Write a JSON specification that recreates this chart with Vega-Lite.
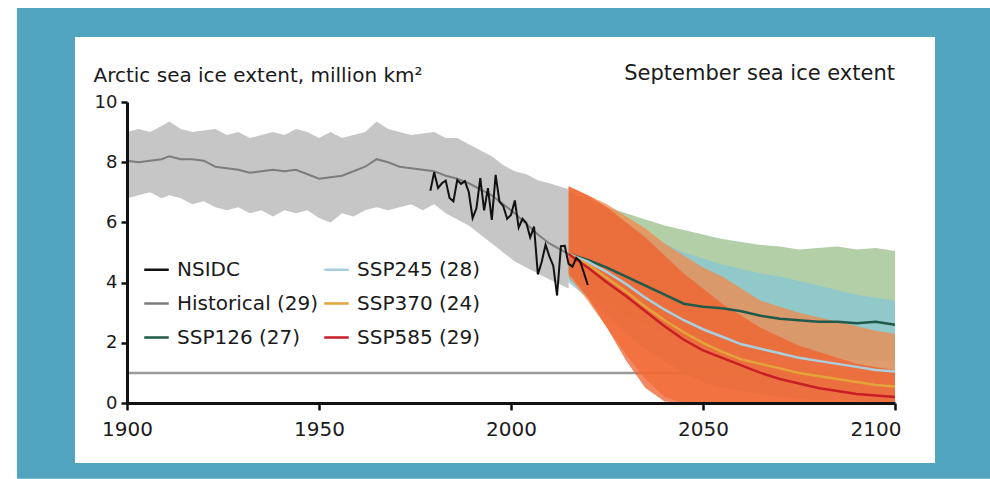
{
  "$schema": "https://vega.github.io/schema/vega-lite/v6.json",
  "width": 768,
  "height": 301,
  "autosize": {"type": "none"},
  "padding": {"left": 127, "top": 102, "right": 95, "bottom": 76},
  "background": "white",
  "config": {"view": {"stroke": null}, "font": "DejaVu Sans"},
  "datasets": {
    "hist": [
      {"year": 1900, "lo": 6.8, "hi": 9.0, "mean": 8.05},
      {"year": 1903, "lo": 6.9, "hi": 9.1, "mean": 8.0},
      {"year": 1906, "lo": 7.0, "hi": 9.0, "mean": 8.05},
      {"year": 1909, "lo": 6.8, "hi": 9.2, "mean": 8.1},
      {"year": 1911, "lo": 6.9, "hi": 9.35, "mean": 8.2},
      {"year": 1914, "lo": 6.8, "hi": 9.1, "mean": 8.1},
      {"year": 1917, "lo": 6.6, "hi": 9.0, "mean": 8.1},
      {"year": 1920, "lo": 6.7, "hi": 9.05, "mean": 8.05},
      {"year": 1923, "lo": 6.5, "hi": 9.1, "mean": 7.85},
      {"year": 1926, "lo": 6.4, "hi": 8.9, "mean": 7.8},
      {"year": 1929, "lo": 6.5, "hi": 9.0, "mean": 7.75},
      {"year": 1932, "lo": 6.3, "hi": 8.8, "mean": 7.65},
      {"year": 1935, "lo": 6.4, "hi": 8.9, "mean": 7.7},
      {"year": 1938, "lo": 6.2, "hi": 9.0, "mean": 7.75},
      {"year": 1941, "lo": 6.4, "hi": 8.9, "mean": 7.7},
      {"year": 1944, "lo": 6.3, "hi": 9.1, "mean": 7.75},
      {"year": 1947, "lo": 6.4, "hi": 9.0, "mean": 7.6},
      {"year": 1950, "lo": 6.15, "hi": 8.8, "mean": 7.45},
      {"year": 1953, "lo": 6.0, "hi": 9.0, "mean": 7.5},
      {"year": 1956, "lo": 6.3, "hi": 8.8, "mean": 7.55},
      {"year": 1959, "lo": 6.2, "hi": 8.9, "mean": 7.7},
      {"year": 1962, "lo": 6.4, "hi": 9.0, "mean": 7.85},
      {"year": 1965, "lo": 6.5, "hi": 9.35, "mean": 8.1},
      {"year": 1968, "lo": 6.4, "hi": 9.1, "mean": 8.0},
      {"year": 1971, "lo": 6.5, "hi": 9.0, "mean": 7.85},
      {"year": 1974, "lo": 6.6, "hi": 8.9, "mean": 7.8},
      {"year": 1977, "lo": 6.4, "hi": 8.95, "mean": 7.75},
      {"year": 1980, "lo": 6.6, "hi": 9.0, "mean": 7.7},
      {"year": 1983, "lo": 6.3, "hi": 8.8, "mean": 7.55},
      {"year": 1986, "lo": 6.1, "hi": 8.8, "mean": 7.45},
      {"year": 1989, "lo": 5.9, "hi": 8.6, "mean": 7.3},
      {"year": 1992, "lo": 5.6, "hi": 8.4, "mean": 7.1},
      {"year": 1995, "lo": 5.3, "hi": 8.2, "mean": 6.9},
      {"year": 1998, "lo": 5.0, "hi": 7.9, "mean": 6.6},
      {"year": 2001, "lo": 4.7, "hi": 7.7, "mean": 6.3},
      {"year": 2004, "lo": 4.5, "hi": 7.6, "mean": 5.95},
      {"year": 2007, "lo": 4.3, "hi": 7.4, "mean": 5.6},
      {"year": 2010, "lo": 4.1, "hi": 7.3, "mean": 5.3},
      {"year": 2015, "lo": 3.8, "hi": 7.1, "mean": 4.95}
    ],
    "nsidc": [
      {"year": 1979, "v": 7.05}, {"year": 1980, "v": 7.67}, {"year": 1981, "v": 7.14},
      {"year": 1982, "v": 7.3}, {"year": 1983, "v": 7.39}, {"year": 1984, "v": 6.81},
      {"year": 1985, "v": 6.7}, {"year": 1986, "v": 7.41}, {"year": 1987, "v": 7.28},
      {"year": 1988, "v": 7.37}, {"year": 1989, "v": 7.01}, {"year": 1990, "v": 6.14},
      {"year": 1991, "v": 6.47}, {"year": 1992, "v": 7.47}, {"year": 1993, "v": 6.4},
      {"year": 1994, "v": 7.14}, {"year": 1995, "v": 6.08}, {"year": 1996, "v": 7.58},
      {"year": 1997, "v": 6.69}, {"year": 1998, "v": 6.54}, {"year": 1999, "v": 6.12},
      {"year": 2000, "v": 6.25}, {"year": 2001, "v": 6.73}, {"year": 2002, "v": 5.83},
      {"year": 2003, "v": 6.12}, {"year": 2004, "v": 5.98}, {"year": 2005, "v": 5.5},
      {"year": 2006, "v": 5.86}, {"year": 2007, "v": 4.27}, {"year": 2008, "v": 4.69},
      {"year": 2009, "v": 5.26}, {"year": 2010, "v": 4.87}, {"year": 2011, "v": 4.56},
      {"year": 2012, "v": 3.57}, {"year": 2013, "v": 5.21}, {"year": 2014, "v": 5.22},
      {"year": 2015, "v": 4.62}, {"year": 2016, "v": 4.53}, {"year": 2017, "v": 4.82},
      {"year": 2018, "v": 4.71}, {"year": 2019, "v": 4.32}, {"year": 2020, "v": 3.92}
    ],
    "proj": [
      {"series": "SSP126 (27)", "year": 2015, "lo": 4.1, "hi": 7.0, "mean": 4.95},
      {"series": "SSP126 (27)", "year": 2020, "lo": 3.7, "hi": 6.8, "mean": 4.75},
      {"series": "SSP126 (27)", "year": 2025, "lo": 3.3, "hi": 6.5, "mean": 4.5},
      {"series": "SSP126 (27)", "year": 2030, "lo": 2.9, "hi": 6.3, "mean": 4.2},
      {"series": "SSP126 (27)", "year": 2035, "lo": 2.6, "hi": 6.1, "mean": 3.9},
      {"series": "SSP126 (27)", "year": 2040, "lo": 2.3, "hi": 5.9, "mean": 3.6},
      {"series": "SSP126 (27)", "year": 2045, "lo": 2.1, "hi": 5.75, "mean": 3.3},
      {"series": "SSP126 (27)", "year": 2050, "lo": 1.9, "hi": 5.6, "mean": 3.2},
      {"series": "SSP126 (27)", "year": 2055, "lo": 1.8, "hi": 5.45, "mean": 3.15},
      {"series": "SSP126 (27)", "year": 2060, "lo": 1.7, "hi": 5.35, "mean": 3.05},
      {"series": "SSP126 (27)", "year": 2065, "lo": 1.6, "hi": 5.25, "mean": 2.9},
      {"series": "SSP126 (27)", "year": 2070, "lo": 1.6, "hi": 5.2, "mean": 2.8},
      {"series": "SSP126 (27)", "year": 2075, "lo": 1.5, "hi": 5.1, "mean": 2.75},
      {"series": "SSP126 (27)", "year": 2080, "lo": 1.5, "hi": 5.15, "mean": 2.7},
      {"series": "SSP126 (27)", "year": 2085, "lo": 1.5, "hi": 5.2, "mean": 2.7},
      {"series": "SSP126 (27)", "year": 2090, "lo": 1.4, "hi": 5.1, "mean": 2.65},
      {"series": "SSP126 (27)", "year": 2095, "lo": 1.4, "hi": 5.15, "mean": 2.7},
      {"series": "SSP126 (27)", "year": 2100, "lo": 1.4, "hi": 5.05, "mean": 2.6},
      {"series": "SSP245 (28)", "year": 2015, "lo": 4.0, "hi": 7.0, "mean": 4.95},
      {"series": "SSP245 (28)", "year": 2020, "lo": 3.5, "hi": 6.7, "mean": 4.7},
      {"series": "SSP245 (28)", "year": 2025, "lo": 2.9, "hi": 6.4, "mean": 4.35},
      {"series": "SSP245 (28)", "year": 2030, "lo": 2.3, "hi": 6.0, "mean": 3.95},
      {"series": "SSP245 (28)", "year": 2035, "lo": 1.8, "hi": 5.6, "mean": 3.5},
      {"series": "SSP245 (28)", "year": 2040, "lo": 1.4, "hi": 5.3, "mean": 3.1},
      {"series": "SSP245 (28)", "year": 2045, "lo": 1.0, "hi": 5.0, "mean": 2.75},
      {"series": "SSP245 (28)", "year": 2050, "lo": 0.7, "hi": 4.8, "mean": 2.45},
      {"series": "SSP245 (28)", "year": 2055, "lo": 0.5, "hi": 4.6, "mean": 2.2},
      {"series": "SSP245 (28)", "year": 2060, "lo": 0.4, "hi": 4.45, "mean": 1.95},
      {"series": "SSP245 (28)", "year": 2065, "lo": 0.3, "hi": 4.3, "mean": 1.8},
      {"series": "SSP245 (28)", "year": 2070, "lo": 0.2, "hi": 4.2, "mean": 1.65},
      {"series": "SSP245 (28)", "year": 2075, "lo": 0.15, "hi": 4.05, "mean": 1.5},
      {"series": "SSP245 (28)", "year": 2080, "lo": 0.1, "hi": 3.9, "mean": 1.4},
      {"series": "SSP245 (28)", "year": 2085, "lo": 0.1, "hi": 3.75, "mean": 1.3},
      {"series": "SSP245 (28)", "year": 2090, "lo": 0.1, "hi": 3.6, "mean": 1.2},
      {"series": "SSP245 (28)", "year": 2095, "lo": 0.05, "hi": 3.5, "mean": 1.1},
      {"series": "SSP245 (28)", "year": 2100, "lo": 0.05, "hi": 3.4, "mean": 1.05},
      {"series": "SSP370 (24)", "year": 2015, "lo": 4.2, "hi": 7.2, "mean": 4.95},
      {"series": "SSP370 (24)", "year": 2020, "lo": 3.4, "hi": 6.9, "mean": 4.6},
      {"series": "SSP370 (24)", "year": 2025, "lo": 2.5, "hi": 6.6, "mean": 4.15},
      {"series": "SSP370 (24)", "year": 2030, "lo": 1.6, "hi": 6.2, "mean": 3.7},
      {"series": "SSP370 (24)", "year": 2035, "lo": 0.8, "hi": 5.8, "mean": 3.2},
      {"series": "SSP370 (24)", "year": 2040, "lo": 0.2, "hi": 5.3, "mean": 2.75},
      {"series": "SSP370 (24)", "year": 2045, "lo": 0, "hi": 4.9, "mean": 2.35},
      {"series": "SSP370 (24)", "year": 2050, "lo": 0, "hi": 4.5, "mean": 2.0},
      {"series": "SSP370 (24)", "year": 2055, "lo": 0, "hi": 4.2, "mean": 1.7},
      {"series": "SSP370 (24)", "year": 2060, "lo": 0, "hi": 3.8, "mean": 1.45},
      {"series": "SSP370 (24)", "year": 2065, "lo": 0, "hi": 3.4, "mean": 1.3},
      {"series": "SSP370 (24)", "year": 2070, "lo": 0, "hi": 3.2, "mean": 1.15},
      {"series": "SSP370 (24)", "year": 2075, "lo": 0, "hi": 3.0, "mean": 1.0},
      {"series": "SSP370 (24)", "year": 2080, "lo": 0, "hi": 2.85, "mean": 0.9},
      {"series": "SSP370 (24)", "year": 2085, "lo": 0, "hi": 2.7, "mean": 0.8},
      {"series": "SSP370 (24)", "year": 2090, "lo": 0, "hi": 2.55, "mean": 0.7},
      {"series": "SSP370 (24)", "year": 2095, "lo": 0, "hi": 2.4, "mean": 0.6},
      {"series": "SSP370 (24)", "year": 2100, "lo": 0, "hi": 2.3, "mean": 0.55},
      {"series": "SSP585 (29)", "year": 2015, "lo": 4.3, "hi": 7.2, "mean": 4.95},
      {"series": "SSP585 (29)", "year": 2020, "lo": 3.5, "hi": 6.9, "mean": 4.5},
      {"series": "SSP585 (29)", "year": 2025, "lo": 2.5, "hi": 6.5, "mean": 4.0},
      {"series": "SSP585 (29)", "year": 2030, "lo": 1.4, "hi": 6.0, "mean": 3.55},
      {"series": "SSP585 (29)", "year": 2035, "lo": 0.5, "hi": 5.5, "mean": 3.05},
      {"series": "SSP585 (29)", "year": 2040, "lo": 0.05, "hi": 4.9, "mean": 2.55},
      {"series": "SSP585 (29)", "year": 2045, "lo": 0, "hi": 4.3, "mean": 2.1},
      {"series": "SSP585 (29)", "year": 2050, "lo": 0, "hi": 3.8, "mean": 1.75},
      {"series": "SSP585 (29)", "year": 2055, "lo": 0, "hi": 3.3, "mean": 1.5},
      {"series": "SSP585 (29)", "year": 2060, "lo": 0, "hi": 2.9, "mean": 1.25},
      {"series": "SSP585 (29)", "year": 2065, "lo": 0, "hi": 2.5, "mean": 1.0},
      {"series": "SSP585 (29)", "year": 2070, "lo": 0, "hi": 2.2, "mean": 0.8},
      {"series": "SSP585 (29)", "year": 2075, "lo": 0, "hi": 1.9, "mean": 0.65},
      {"series": "SSP585 (29)", "year": 2080, "lo": 0, "hi": 1.7, "mean": 0.5},
      {"series": "SSP585 (29)", "year": 2085, "lo": 0, "hi": 1.5, "mean": 0.4},
      {"series": "SSP585 (29)", "year": 2090, "lo": 0, "hi": 1.3, "mean": 0.3},
      {"series": "SSP585 (29)", "year": 2095, "lo": 0, "hi": 1.2, "mean": 0.25},
      {"series": "SSP585 (29)", "year": 2100, "lo": 0, "hi": 1.1, "mean": 0.2}
    ],
    "note": [{"label": "September sea ice extent"}]
  },
  "layer": [
    {
      "data": {"name": "note"},
      "mark": {"type": "rect", "color": "#52a5be", "clip": false},
      "encoding": {
        "x": {"datum": 1871.35, "type": "quantitative", "scale": {"domain": [1900, 2100], "nice": false, "zero": false}},
        "x2": {"datum": 2124.74},
        "y": {"datum": 13.12, "type": "quantitative", "scale": {"domain": [0, 10], "nice": false}},
        "y2": {"datum": -2.52}
      }
    },
    {
      "data": {"name": "note"},
      "mark": {"type": "rect", "color": "white", "clip": false},
      "encoding": {
        "x": {"datum": 1886.46, "type": "quantitative", "scale": {"domain": [1900, 2100], "nice": false, "zero": false}},
        "x2": {"datum": 2110.42},
        "y": {"datum": 12.16, "type": "quantitative", "scale": {"domain": [0, 10], "nice": false}},
        "y2": {"datum": -1.99}
      }
    },
    {
      "data": {"name": "note"},
      "mark": {"type": "rule", "color": "#9a9a9a", "strokeWidth": 2.5},
      "encoding": {
        "y": {"datum": 1, "type": "quantitative", "scale": {"domain": [0, 10], "nice": false}}
      }
    },
    {
      "data": {"name": "hist"},
      "mark": {"type": "area", "color": "#c6c6c6", "opacity": 1},
      "encoding": {
        "x": {
          "field": "year", "type": "quantitative",
          "scale": {"domain": [1900, 2100], "nice": false, "zero": false},
          "axis": {
            "values": [1900, 1950, 2000, 2050, 2100],
            "format": "d",
            "title": null,
            "grid": false,
            "zindex": 1,
            "domainColor": "#111111",
            "domainWidth": 3,
            "tickColor": "#111111",
            "tickWidth": 2.5,
            "tickSize": 7,
            "labelFont": "DejaVu Sans",
            "labelFontSize": 20,
            "labelColor": "#1a1a1a",
            "labelPadding": 9,
            "labelFlush": false,
            "labelAlign": {"condition": {"test": "datum.value == 2100", "value": "right"}, "value": "center"},
            "labelOffset": {"condition": {"test": "datum.value == 2100", "value": 6}, "value": 0}
          }
        },
        "y": {
          "field": "lo", "type": "quantitative", "stack": null,
          "title": "Arctic sea ice extent, million km²",
          "scale": {"domain": [0, 10], "nice": false},
          "axis": {
            "values": [0, 1, 2, 3, 4, 5, 6, 7, 8, 9, 10],
            "labelExpr": "datum.value % 2 == 0 ? datum.label : ''",
            "grid": false,
            "zindex": 1,
            "domainColor": "#111111",
            "domainWidth": 3,
            "tickColor": "#111111",
            "tickWidth": 2.5,
            "tickSize": 6,
            "labelFont": "DejaVu Sans",
            "labelFontSize": 18,
            "labelColor": "#1a1a1a",
            "labelPadding": 4,
            "title": "Arctic sea ice extent, million km²",
            "titleFont": "DejaVu Sans",
            "titleFontSize": 20,
            "titleFontWeight": "normal",
            "titleColor": "#1a1a1a",
            "titleAngle": 0,
            "titleAlign": "left",
            "titleBaseline": "alphabetic",
            "titleX": -34,
            "titleY": -21
          }
        },
        "y2": {"field": "hi"}
      }
    },
    {
      "data": {"name": "proj"},
      "mark": {"type": "area", "opacity": 0.75},
      "encoding": {
        "x": {"field": "year", "type": "quantitative", "title": null},
        "y": {"field": "lo", "type": "quantitative", "stack": null, "title": "Arctic sea ice extent, million km²"},
        "y2": {"field": "hi"},
        "fill": {
          "field": "series", "type": "nominal", "legend": null,
          "scale": {
            "domain": ["SSP126 (27)", "SSP245 (28)", "SSP370 (24)", "SSP585 (29)"],
            "range": ["#98bf8a", "#86c5d6", "#f38a4a", "#f0602f"]
          }
        }
      }
    },
    {
      "data": {"name": "hist"},
      "mark": {"type": "line", "strokeWidth": 2},
      "encoding": {
        "x": {"field": "year", "type": "quantitative", "title": null},
        "y": {"field": "mean", "type": "quantitative", "title": "Arctic sea ice extent, million km²"},
        "stroke": {
          "datum": "Historical (29)", "type": "nominal",
          "scale": {
            "domain": ["NSIDC", "Historical (29)", "SSP126 (27)", "SSP245 (28)", "SSP370 (24)", "SSP585 (29)"],
            "range": ["#111111", "#7d7d7d", "#1f5a4a", "#a8cfe0", "#e3a43b", "#c81e25"]
          },
          "legend": {
            "orient": "none",
            "legendX": 16,
            "legendY": 154,
            "columns": 2,
            "columnPadding": 0,
            "rowPadding": 10,
            "title": null,
            "symbolType": "stroke",
            "symbolSize": 600,
            "symbolStrokeWidth": 2.5,
            "labelFont": "DejaVu Sans",
            "labelFontSize": 20,
            "labelColor": "#1a1a1a",
            "labelOffset": 7,
            "labelLimit": 300
          }
        }
      }
    },
    {
      "data": {"name": "proj"},
      "mark": {"type": "line", "strokeWidth": 2.5},
      "encoding": {
        "x": {"field": "year", "type": "quantitative", "title": null},
        "y": {"field": "mean", "type": "quantitative", "title": "Arctic sea ice extent, million km²"},
        "stroke": {"field": "series", "type": "nominal", "title": null}
      }
    },
    {
      "data": {"name": "nsidc"},
      "mark": {"type": "line", "strokeWidth": 2},
      "encoding": {
        "x": {"field": "year", "type": "quantitative", "title": null},
        "y": {"field": "v", "type": "quantitative", "title": "Arctic sea ice extent, million km²"},
        "stroke": {"datum": "NSIDC", "type": "nominal"}
      }
    },
    {
      "data": {"name": "note"},
      "mark": {"type": "text", "align": "right", "baseline": "alphabetic", "font": "DejaVu Sans", "fontSize": 21, "color": "#1a1a1a", "clip": false},
      "encoding": {
        "x": {"datum": 2100, "type": "quantitative"},
        "y": {"datum": 10.72, "type": "quantitative"},
        "text": {"field": "label"}
      }
    }
  ]
}
